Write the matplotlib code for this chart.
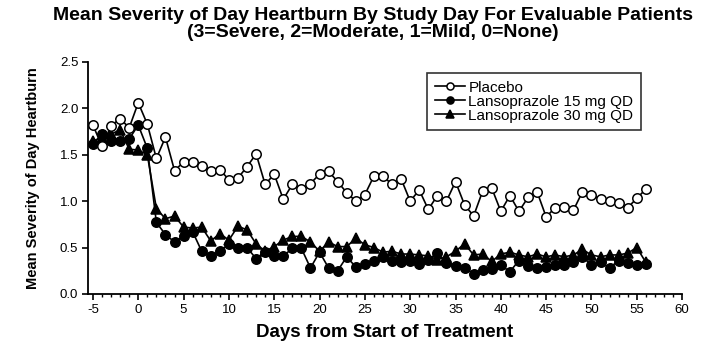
import numpy as np
import matplotlib
matplotlib.use("Agg")
import matplotlib.pyplot as plt
from matplotlib.ticker import MultipleLocator

plt.rcParams['font.family'] = ['Liberation Sans', 'DejaVu Sans']
plt.rcParams['axes.unicode_minus'] = False

# study day -5 .. 56
days = list(range(-5, 57))

placebo = [1.82, 1.59, 1.81, 1.89, 1.79, 2.06, 1.83, 1.46, 1.69, 1.33,
           1.42, 1.42, 1.38, 1.33, 1.34, 1.23, 1.25, 1.37, 1.51, 1.18,
           1.29, 1.02, 1.18, 1.13, 1.19, 1.29, 1.32, 1.21, 1.09, 1.00,
           1.07, 1.27, 1.27, 1.18, 1.24, 1.00, 1.12, 0.91, 1.06, 1.00,
           1.21, 0.96, 0.84, 1.11, 1.14, 0.89, 1.06, 0.89, 1.04, 1.10,
           0.83, 0.93, 0.94, 0.90, 1.10, 1.07, 1.02, 1.00, 0.98, 0.93,
           1.03, 1.13]

lanso15 = [1.62, 1.72, 1.65, 1.65, 1.67, 1.82, 1.57, 0.77, 0.64, 0.56,
           0.62, 0.67, 0.46, 0.41, 0.46, 0.54, 0.50, 0.50, 0.38, 0.45,
           0.41, 0.41, 0.49, 0.49, 0.28, 0.45, 0.28, 0.25, 0.40, 0.29,
           0.32, 0.36, 0.40, 0.35, 0.34, 0.35, 0.32, 0.37, 0.44, 0.33,
           0.30, 0.28, 0.22, 0.26, 0.27, 0.31, 0.24, 0.36, 0.30, 0.28,
           0.29, 0.31, 0.31, 0.34, 0.40, 0.31, 0.34, 0.28, 0.36, 0.33,
           0.31, 0.32]

lanso30 = [1.65, 1.68, 1.72, 1.77, 1.56, 1.55, 1.50, 0.92, 0.81, 0.84,
           0.72, 0.71, 0.72, 0.57, 0.65, 0.58, 0.73, 0.69, 0.54, 0.46,
           0.51, 0.58, 0.62, 0.62, 0.56, 0.46, 0.56, 0.51, 0.51, 0.60,
           0.53, 0.50, 0.45, 0.46, 0.43, 0.43, 0.42, 0.41, 0.37, 0.40,
           0.46, 0.54, 0.42, 0.43, 0.35, 0.43, 0.45, 0.42, 0.40, 0.43,
           0.40, 0.42, 0.40, 0.42, 0.48, 0.42, 0.40, 0.42, 0.42, 0.44,
           0.50, 0.34]

labels = ['Placebo', 'Lansoprazole 15 mg QD', 'Lansoprazole 30 mg QD']

fig = plt.figure(figsize=(7.15, 3.52), dpi=100)
ax = fig.add_axes([0.123, 0.165, 0.831, 0.659])

kw = dict(color='black', linewidth=1.2, markersize=6.8, markeredgewidth=1.1)
ax.plot(days, placebo, marker='o', markerfacecolor='white', label=labels[0], zorder=3, **kw)
ax.plot(days, lanso15, marker='o', markerfacecolor='black', label=labels[1], zorder=2, **kw)
ax.plot(days, lanso30, marker='^', markerfacecolor='black', label=labels[2], zorder=2, **kw)

ax.set_xlim(-5.55, 60)
ax.set_ylim(0, 2.5)
ax.xaxis.set_major_locator(MultipleLocator(5))
ax.xaxis.set_minor_locator(MultipleLocator(1))
ax.yaxis.set_major_locator(MultipleLocator(0.5))
ax.yaxis.set_major_formatter(matplotlib.ticker.FormatStrFormatter('%.1f'))
ax.tick_params(axis='both', which='major', direction='out', length=4, width=1.2, labelsize=9.5, pad=3)
ax.tick_params(axis='x', which='minor', direction='out', length=2.5, width=1.0)
for s in ['top', 'right']:
    ax.spines[s].set_visible(False)
for s in ['left', 'bottom']:
    ax.spines[s].set_linewidth(1.3)

ax.set_xlabel('Days from Start of Treatment', fontsize=13.5, fontweight='bold', labelpad=6)
ax.set_ylabel('Mean Severity of Day Heartburn', fontsize=10.5, fontweight='bold', labelpad=14)

fig.text(0.522, 0.98, 'Mean Severity of Day Heartburn By Study Day For Evaluable Patients\n'
         '(3=Severe, 2=Moderate, 1=Mild, 0=None)',
         ha='center', va='top', fontsize=14, fontweight='bold', linespacing=0.98)

leg = ax.legend(loc='upper left', bbox_to_anchor=(427 / 715, 1 - 73 / 352),
                bbox_transform=fig.transFigure, fontsize=11, frameon=True,
                fancybox=False, edgecolor='black', handlelength=2.0,
                handletextpad=0.2, labelspacing=0.0, borderpad=0.5,
                borderaxespad=0, markerscale=0.75)
leg.get_frame().set_linewidth(1.2)

fig.savefig('out.png', dpi=100)
